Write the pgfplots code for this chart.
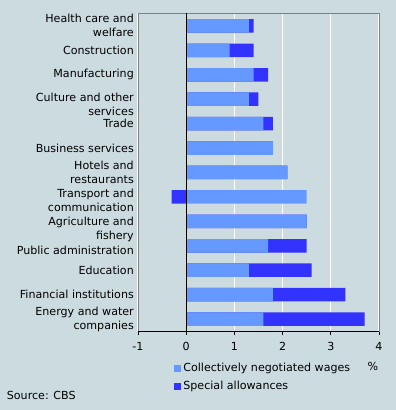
\documentclass[border=0pt]{standalone}
\usepackage{pgfplots}
\usepackage{pgfplotstable}
\pgfplotsset{compat=1.18}
\usepackage{fontspec}
\setmainfont{DejaVu Sans}
\definecolor{bg}{RGB}{204,219,224}
\definecolor{cnwc}{RGB}{102,153,255}
\definecolor{specc}{RGB}{51,51,255}
\pgfplotstableread{
cnw spec
1.3 0.1
0.9 0.5
1.4 0.3
1.3 0.2
1.6 0.2
1.8 0
2.1 0
2.5 -0.3
2.5 0
1.7 0.8
1.3 1.3
1.8 1.5
1.6 2.1
}\data
\newcommand\ff{\fontsize{11.1bp}{14bp}\selectfont}
\begin{document}
\begin{tikzpicture}
\fill[bg] (-138bp,-79bp) rectangle (258bp,331bp);
\begin{axis}[
 at={(0,0)}, anchor=south west,
 scale only axis, width=241bp, height=318bp,
 xmin=-1, xmax=4, ymin=-0.53, ymax=12.49, y dir=reverse,
 bar width=13.5bp,
 ytick={-0.04,1,2,3.2,4,5,6,7.16,8.33,9.2,10,11,12},
 yticklabels={{Health care and\\welfare},Construction,Manufacturing,{Culture and other\\services},Trade,Business services,{Hotels and\\restaurants},{Transport and\\communication},{Agriculture and\\fishery},Public administration,Education,Financial institutions,{Energy and water\\companies}},
 yticklabel style={align=right, font=\ff, inner sep=0pt},
 xticklabel style={font=\ff, yshift=-4bp},
 /pgf/number format/assume math mode=true,
 y tick style={draw=none},
 xtick={-1,0,1,2,3,4},
 xtick pos=bottom, ytick pos=left,
 tick align=outside, major tick length=4bp,
 x tick style={black, line width=0.8pt},
 xmajorgrids, grid style={white, line width=1pt},
 axis line style={gray, line width=0.8pt},
 legend style={at={(axis description cs:0.15,-0.095)}, anchor=north west, draw=none, fill=none, font=\ff, row sep=4bp, inner sep=0pt, legend cell align=left},
 legend image code/.code={\fill[#1] (0bp,-3.5bp) rectangle (7bp,3.5bp);},
]
\addplot[xbar, bar shift=0pt, fill=specc, draw=none, forget plot] table[x expr={(\thisrow{spec}<0) ? \thisrow{spec} : (\thisrow{cnw}+\thisrow{spec})}, y expr=\coordindex]{\data};
\addplot[xbar, bar shift=0pt, fill=cnwc, draw=none] table[x=cnw, y expr=\coordindex]{\data};
\addlegendimage{fill=specc, draw=none}
\legend{Collectively negotiated wages, Special allowances}
\draw[black, line width=1pt] (axis cs:0,-0.53) -- (axis cs:0,12.49);
\draw[black, line width=0.8pt] (axis description cs:0,0) -- (axis description cs:1,0);
\end{axis}
\node[font=\ff] at (235bp,-35bp) {\%};
\node[font=\ff, anchor=base west, inner sep=0pt] at (-131.3bp,-68bp) {Source: CBS};
\pgfresetboundingbox
\path (-138bp,-79bp) rectangle (258bp,331bp);
\end{tikzpicture}
\end{document}
